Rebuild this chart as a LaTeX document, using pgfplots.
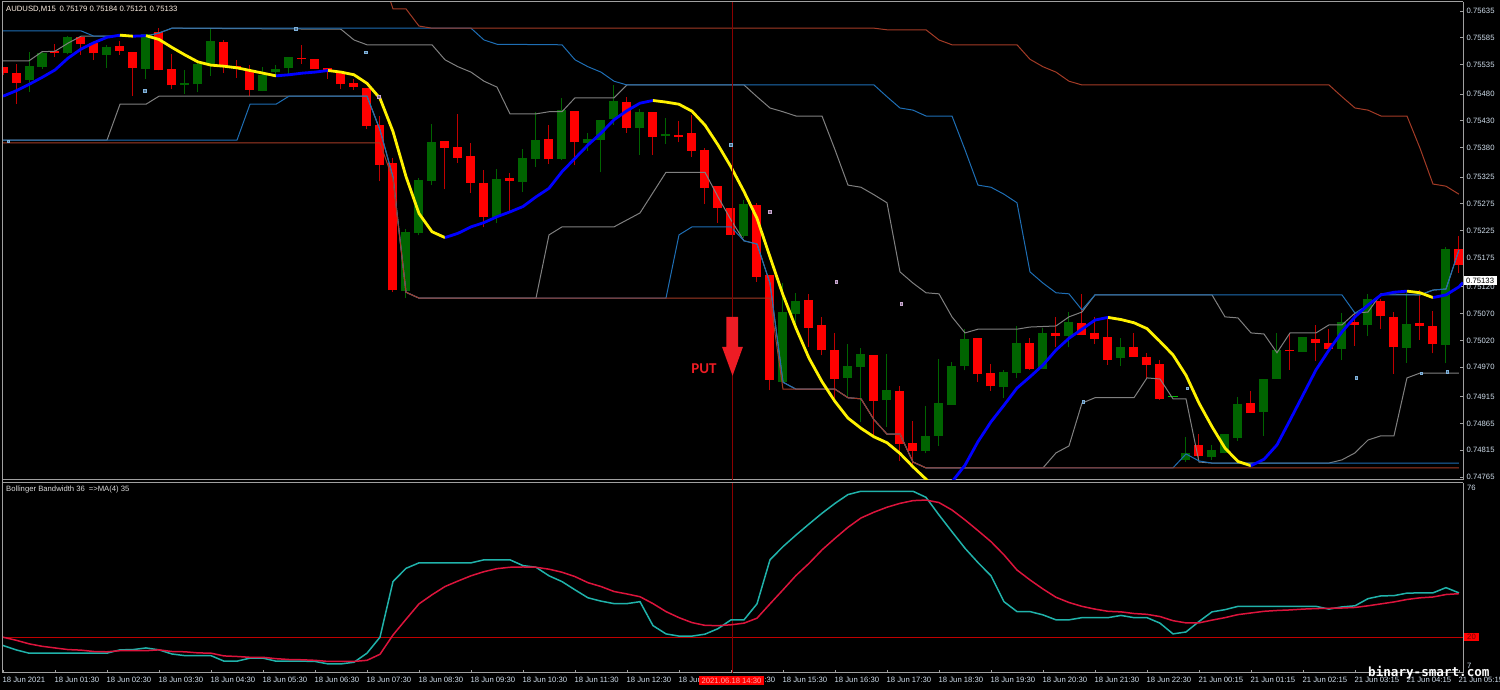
\documentclass[border=0pt]{standalone}
\usepackage{fontspec}
\setmainfont{Liberation Sans}
\newfontfamily\markfont{DejaVu Sans Mono}
\newfontfamily\putfont{Carlito}
\usepackage{pgfplots}
\usepackage{pgfplotstable}
\pgfplotsset{compat=1.18}
\definecolor{bull}{HTML}{006400}
\definecolor{bear}{HTML}{FF0000}
\definecolor{bearwick}{HTML}{C00000}
\definecolor{bandgrey}{HTML}{808080}
\definecolor{bandblue}{HTML}{1E6EB4}
\definecolor{bandbrown}{HTML}{A33B26}
\definecolor{cross}{HTML}{8B0000}
\definecolor{lvl}{HTML}{C00000}
\definecolor{bbw}{HTML}{20B2AA}
\definecolor{bbwma}{HTML}{DC143C}
\definecolor{ticktxt}{HTML}{D0DEEC}
\definecolor{frame}{HTML}{A0A0A0}
\definecolor{putred}{HTML}{ED1C24}
\definecolor{dotblue}{HTML}{7FB2DC}
\definecolor{dotpink}{HTML}{C8A8D0}

% falling candles: o is the top of the body
\pgfplotstableread{
i o h l c
0 0.75530 0.75531 0.75516 0.75519
1 0.75519 0.75536 0.75461 0.75501
4 0.75560 0.75573 0.75550 0.75557
6 0.75586 0.75587 0.75553 0.75573
7 0.75575 0.75578 0.75544 0.75556
9 0.75570 0.75579 0.75553 0.75560
10 0.75559 0.75559 0.75477 0.75529
12 0.75595 0.75603 0.75524 0.75524
13 0.75526 0.75555 0.75490 0.75496
17 0.75578 0.75581 0.75520 0.75532
18 0.75532 0.75543 0.75510 0.75528
19 0.75523 0.75534 0.75477 0.75488
23 0.75547 0.75572 0.75537 0.75545
24 0.75545 0.75545 0.75527 0.75527
25 0.75529 0.75529 0.75509 0.75523
26 0.75519 0.75522 0.75490 0.75498
27 0.75501 0.75509 0.75488 0.75493
28 0.75491 0.75491 0.75414 0.75420
29 0.75422 0.75439 0.75317 0.75348
30 0.75352 0.75360 0.75111 0.75114
34 0.75392 0.75392 0.75302 0.75379
35 0.75381 0.75443 0.75351 0.75361
36 0.75364 0.75388 0.75296 0.75314
37 0.75314 0.75338 0.75231 0.75250
39 0.75323 0.75333 0.75260 0.75318
42 0.75397 0.75422 0.75349 0.75358
44 0.75449 0.75449 0.75347 0.75390
48 0.75465 0.75475 0.75408 0.75417
50 0.75447 0.75447 0.75367 0.75400
52 0.75403 0.75430 0.75390 0.75400
53 0.75408 0.75441 0.75363 0.75374
54 0.75376 0.75380 0.75275 0.75305
55 0.75308 0.75308 0.75240 0.75267
56 0.75267 0.75267 0.75217 0.75217
58 0.75273 0.75276 0.75130 0.75139
59 0.75143 0.75143 0.74927 0.74947
62 0.75095 0.75107 0.75008 0.75044
63 0.75048 0.75064 0.74992 0.75002
64 0.75002 0.75034 0.74912 0.74948
67 0.74992 0.74992 0.74843 0.74907
69 0.74926 0.74934 0.74794 0.74827
70 0.74829 0.74870 0.74781 0.74813
75 0.75024 0.75024 0.74943 0.74957
76 0.74959 0.74976 0.74926 0.74934
79 0.75015 0.75025 0.74965 0.74966
81 0.75033 0.75064 0.75008 0.75029
83 0.75052 0.75106 0.75030 0.75030
84 0.75033 0.75064 0.75013 0.75023
85 0.75026 0.75061 0.74975 0.74984
87 0.75008 0.75033 0.74989 0.74989
88 0.74989 0.74996 0.74949 0.74975
89 0.74976 0.74984 0.74909 0.74911
92 0.74825 0.74845 0.74796 0.74804
96 0.74903 0.74926 0.74884 0.74884
99 0.75002 0.75033 0.74965 0.75000
101 0.75022 0.75049 0.74982 0.75016
102 0.75016 0.75041 0.75004 0.75004
104 0.75055 0.75071 0.75010 0.75049
106 0.75094 0.75097 0.75041 0.75065
107 0.75064 0.75074 0.74958 0.75007
109 0.75052 0.75115 0.75021 0.75047
110 0.75047 0.75075 0.74996 0.75013
112 0.75191 0.75215 0.75146 0.75161
}\downbars

% rising candles: o is the bottom of the body
\pgfplotstableread{
i o h l c
2 0.75506 0.75558 0.75484 0.75532
3 0.75531 0.75559 0.75526 0.75556
5 0.75556 0.75588 0.75554 0.75586
8 0.75553 0.75572 0.75529 0.75568
11 0.75527 0.75593 0.75509 0.75593
14 0.75497 0.75525 0.75480 0.75500
15 0.75498 0.75541 0.75483 0.75537
16 0.75536 0.75601 0.75514 0.75580
20 0.75486 0.75531 0.75485 0.75516
21 0.75521 0.75534 0.75514 0.75527
22 0.75528 0.75549 0.75517 0.75549
31 0.75112 0.75228 0.75099 0.75223
32 0.75221 0.75324 0.75216 0.75320
33 0.75318 0.75424 0.75310 0.75391
38 0.75251 0.75341 0.75239 0.75321
40 0.75316 0.75377 0.75298 0.75361
41 0.75358 0.75447 0.75344 0.75395
43 0.75359 0.75472 0.75357 0.75450
45 0.75389 0.75407 0.75374 0.75397
46 0.75394 0.75432 0.75334 0.75432
47 0.75433 0.75497 0.75422 0.75467
49 0.75417 0.75453 0.75366 0.75446
51 0.75401 0.75436 0.75387 0.75405
57 0.75215 0.75282 0.75211 0.75274
60 0.74943 0.75128 0.74943 0.75074
61 0.75070 0.75108 0.75046 0.75093
65 0.74950 0.75013 0.74915 0.74973
66 0.74971 0.75005 0.74868 0.74994
68 0.74908 0.74995 0.74859 0.74927
71 0.74814 0.74898 0.74809 0.74842
72 0.74842 0.74985 0.74823 0.74903
73 0.74900 0.74980 0.74900 0.74973
74 0.74972 0.75041 0.74964 0.75023
77 0.74933 0.74965 0.74913 0.74961
78 0.74959 0.75046 0.74949 0.75015
80 0.74967 0.75044 0.74967 0.75033
82 0.75028 0.75074 0.75007 0.75054
86 0.74987 0.75025 0.74972 0.75008
91 0.74796 0.74839 0.74793 0.74810
93 0.74802 0.74825 0.74797 0.74815
94 0.74809 0.74845 0.74809 0.74845
95 0.74838 0.74914 0.74833 0.74901
97 0.74887 0.74948 0.74842 0.74948
98 0.74948 0.75034 0.74948 0.75003
100 0.74998 0.75026 0.74998 0.75026
103 0.75004 0.75071 0.74983 0.75055
105 0.75048 0.75107 0.75028 0.75097
108 0.75006 0.75108 0.74978 0.75051
111 0.75011 0.75194 0.74977 0.75191
}\upbars

% moving average, coloured by slope further down
\pgfplotstableread{
i p
0 0.75476
1 0.75486
2 0.75498
3 0.75511
4 0.75525
5 0.75547
6 0.75564
7 0.75576
8 0.75586
9 0.75590
10 0.75588
11 0.75589
12 0.75582
13 0.75567
14 0.75553
15 0.75540
16 0.75534
17 0.75532
18 0.75529
19 0.75524
20 0.75519
21 0.75514
22 0.75516
23 0.75519
24 0.75521
25 0.75524
26 0.75521
27 0.75516
28 0.75500
29 0.75472
30 0.75410
31 0.75326
32 0.75257
33 0.75223
34 0.75212
35 0.75220
36 0.75232
37 0.75240
38 0.75251
39 0.75260
40 0.75270
41 0.75288
42 0.75304
43 0.75335
44 0.75360
45 0.75385
46 0.75407
47 0.75432
48 0.75449
49 0.75463
50 0.75468
51 0.75465
52 0.75461
53 0.75448
54 0.75422
55 0.75385
56 0.75344
57 0.75298
58 0.75248
59 0.75176
60 0.75105
61 0.75043
62 0.74987
63 0.74943
64 0.74906
65 0.74875
66 0.74856
67 0.74840
68 0.74829
69 0.74809
70 0.74784
71 0.74761
72 0.74735
73 0.74756
74 0.74787
75 0.74831
76 0.74868
77 0.74899
78 0.74931
79 0.74952
80 0.74974
81 0.75002
82 0.75024
83 0.75041
84 0.75058
85 0.75063
86 0.75059
87 0.75053
88 0.75042
89 0.75018
90 0.74993
91 0.74955
92 0.74903
93 0.74859
94 0.74819
95 0.74794
96 0.74786
97 0.74798
98 0.74825
99 0.74871
100 0.74918
101 0.74965
102 0.75002
103 0.75036
104 0.75064
105 0.75086
106 0.75105
107 0.75110
108 0.75112
109 0.75109
110 0.75100
111 0.75105
112 0.75120
112.3 0.75128
}\ma

\pgfplotstableread{
i p
29 0.75712
30 0.75639
31 0.75639
32 0.75607
33 0.75603
67 0.75603
68 0.75600
71 0.75600
72 0.75581
73 0.75572
78 0.75572
79 0.75545
80 0.75531
81 0.75521
82 0.75504
83 0.75497
102 0.75497
103 0.75475
104 0.75454
105 0.75450
106 0.75439
108 0.75439
109 0.75379
110 0.75312
111 0.75308
112 0.75293
}\brownup

\pgfplotstableread{
i p
0 0.75389
29 0.75389
30 0.75320
31 0.75110
32 0.75099
59 0.75099
60 0.74929
64 0.74929
65 0.74913
66 0.74911
67 0.74872
68 0.74845
69 0.74845
70 0.74793
71 0.74782
112 0.74782
}\brownlow

\pgfplotstableread{
i p
0 0.75598
6 0.75598
7 0.75588
11 0.75588
12 0.75594
13 0.75603
36 0.75603
37 0.75581
38 0.75573
43 0.75572
44 0.75544
45 0.75531
46 0.75521
47 0.75504
48 0.75497
67 0.75497
68 0.75475
69 0.75454
70 0.75450
71 0.75439
73 0.75439
74 0.75376
75 0.75310
76 0.75306
77 0.75293
78 0.75277
79 0.75148
80 0.75127
81 0.75109
82 0.75107
83 0.75077
84 0.75105
103 0.75105
104 0.75071
105 0.75086
106 0.75105
109 0.75105
110 0.75114
111 0.75116
112 0.75189
}\blueup

\pgfplotstableread{
i p
0 0.75394
18 0.75394
19 0.75461
21 0.75461
22 0.75476
28 0.75476
29 0.75413
30 0.75325
31 0.75110
32 0.75099
51 0.75099
52 0.75217
53 0.75232
56 0.75232
57 0.75206
58 0.75200
59 0.75127
60 0.74942
61 0.74929
64 0.74929
65 0.74913
66 0.74911
67 0.74872
68 0.74845
69 0.74845
70 0.74793
71 0.74782
90 0.74782
91 0.74808
92 0.74795
93 0.74791
112 0.74791
}\bluelow

\pgfplotstableread{
i p
0 0.75542
2 0.75542
3 0.75559
4 0.75560
5 0.75575
6 0.75588
11 0.75588
12 0.75594
13 0.75603
26 0.75601
27 0.75581
28 0.75572
33 0.75572
34 0.75544
35 0.75531
36 0.75521
37 0.75504
38 0.75493
39 0.75443
41 0.75443
42 0.75447
43 0.75447
44 0.75473
47 0.75473
48 0.75497
57 0.75497
58 0.75475
59 0.75454
60 0.75447
61 0.75439
63 0.75439
64 0.75376
65 0.75310
66 0.75306
67 0.75292
68 0.75277
69 0.75148
70 0.75127
71 0.75109
72 0.75107
73 0.75064
74 0.75034
75 0.75041
78 0.75041
79 0.75045
81 0.75047
82 0.75064
83 0.75073
84 0.75105
93 0.75105
94 0.75064
95 0.75062
96 0.75034
97 0.75032
98 0.74997
99 0.75034
101 0.75034
102 0.75049
103 0.75049
104 0.75071
105 0.75073
106 0.75107
109 0.75105
110 0.75114
111 0.75116
112 0.75189
}\greyup

\pgfplotstableread{
i p
0 0.75394
8 0.75394
9 0.75461
11 0.75461
12 0.75476
28 0.75476
29 0.75413
30 0.75325
31 0.75110
32 0.75099
41 0.75099
42 0.75217
43 0.75232
47 0.75232
48 0.75245
49 0.75258
50 0.75296
51 0.75334
54 0.75334
55 0.75288
56 0.75245
57 0.75206
58 0.75200
59 0.75127
60 0.74942
61 0.74929
64 0.74929
65 0.74913
66 0.74911
67 0.74872
68 0.74845
69 0.74845
70 0.74793
71 0.74782
80 0.74782
81 0.74810
82 0.74823
83 0.74903
84 0.74913
87 0.74913
88 0.74950
89 0.74948
90 0.74911
91 0.74911
92 0.74793
93 0.74791
102 0.74791
103 0.74797
104 0.74810
105 0.74834
106 0.74842
107 0.74842
108 0.74950
109 0.74959
112 0.74959
}\greylow

% bandwidth panel
\pgfplotstableread{
i w m
0 17.0 20.0
1 15.4 18.9
2 14.2 17.6
3 14.2 16.7
4 14.2 16.1
5 14.2 15.5
6 14.2 15.3
7 14.2 14.8
8 14.2 14.7
9 15.4 15.1
10 15.5 15.1
11 16.1 15.1
12 15.4 15.4
13 13.9 14.8
14 13.3 14.7
15 13.3 14.3
16 13.3 14.2
17 11.3 13.2
18 11.3 13.0
19 12.4 12.7
20 12.4 12.7
21 11.3 12.2
22 11.3 11.9
23 11.3 11.8
24 11.2 11.6
25 10.3 11.2
26 10.3 11.2
27 10.9 11.2
28 14.2 11.6
29 20.0 13.8
30 40.2 20.8
31 45.0 26.5
32 47.0 32.1
33 47.0 35.4
34 47.0 38.4
35 47.0 40.4
36 47.0 42.3
37 48.1 43.8
38 48.1 44.9
39 48.1 45.4
40 46.0 45.5
41 45.4 45.4
42 42.3 44.7
43 40.2 43.6
44 37.2 42.0
45 34.3 39.8
46 33.1 38.4
47 32.2 36.6
48 32.2 35.7
49 32.9 34.7
50 24.2 32.2
51 21.2 29.3
52 20.4 27.1
53 20.4 25.3
54 21.1 24.3
55 23.1 24.2
56 26.3 24.5
57 26.3 25.1
58 32.1 26.9
59 48.1 32.1
60 52.9 37.2
61 57.1 42.4
62 61.1 46.8
63 65.0 51.7
64 68.6 55.9
65 71.8 59.9
66 73.0 63.3
67 73.0 65.4
68 73.0 67.2
69 73.0 68.6
70 73.0 69.6
71 70.8 69.8
72 64.4 68.9
73 58.3 66.2
74 52.3 62.6
75 47.1 58.7
76 42.3 54.7
77 32.9 49.9
78 29.3 44.4
79 29.3 40.8
80 28.1 37.5
81 26.3 34.5
82 26.3 32.6
83 27.1 31.2
84 27.1 30.2
85 27.1 29.4
86 27.9 29.2
87 27.1 28.6
88 27.1 28.3
89 25.1 27.5
90 21.2 26.0
91 21.9 25.2
92 25.7 25.2
93 29.2 26.2
94 30.0 27.1
95 31.2 28.2
96 31.2 28.8
97 31.2 29.4
98 31.2 29.7
99 31.2 29.9
100 31.2 30.2
101 31.2 30.4
102 30.2 30.5
103 31.0 30.6
104 31.4 30.8
105 34.0 31.4
106 35.0 32.1
107 35.1 32.8
108 36.0 33.7
109 36.1 34.3
110 36.1 34.6
111 38.0 35.5
112 36.1 35.8
}\bandwidth

\newcommand{\chartfont}{\fontsize{7.7}{9}\selectfont}
\pgfplotsset{
  panel/.style={
    scale only axis, width=1461pt, xmin=-0.077, xmax=112.31,
    axis line style={draw=frame, line width=1pt},
    tick style={draw=frame, line width=0.8pt},
    major tick length=3pt,
    tick label style={font=\chartfont, text=ticktxt},
    /pgf/number format/assume math mode=true,
  },
  candle/.style={draw=none, mark=none, forget plot, error bars/.cd, y dir=plus, y explicit, error mark=none, error bar style={draw=#1}},
  band/.style={draw=#1, line width=1pt, mark=none, forget plot},
  maline/.style={draw=#1, line width=2.8pt, mark=none, line join=round, forget plot},
}

\begin{document}
\begin{tikzpicture}
\path[use as bounding box, fill=black] (0,0) rectangle (1500pt,690pt);

\begin{axis}[panel, at={(2pt,210pt)}, anchor=south west, height=478pt,
  ymin=0.747594, ymax=0.756519,
  xtick=\empty, axis y line*=right, axis x line*=bottom,
  ytick={0.75635,0.75585,0.75535,0.75480,0.75430,0.75380,0.75325,0.75275,0.75225,0.75175,0.75120,0.75070,0.75020,0.74970,0.74915,0.74865,0.74815,0.74765},
  scaled y ticks=false,
  yticklabel style={/pgf/number format/fixed, /pgf/number format/fixed zerofill, /pgf/number format/precision=5, anchor=west, inner xsep=0pt, xshift=3.5pt},
]
% wicks then bodies
\addplot[candle=bearwick, error bar style={line width=1pt}] table[x=i, y=l, y error plus expr=\thisrow{h}-\thisrow{l}] {\downbars};
\addplot[candle=bear, error bar style={line width=9pt}] table[x=i, y=c, y error plus expr=\thisrow{o}-\thisrow{c}] {\downbars};
\addplot[candle=bull, error bar style={line width=1pt}] table[x=i, y=l, y error plus expr=\thisrow{h}-\thisrow{l}] {\upbars};
\addplot[candle=bull, error bar style={line width=9pt}] table[x=i, y=o, y error plus expr=\thisrow{c}-\thisrow{o}] {\upbars};
\addplot[draw=green!75!black, line width=1pt, forget plot] coordinates {(89.65,0.74915) (90.35,0.74915)};

\addplot[band=bandgrey] table[x=i, y=p] {\greyup};
\addplot[band=bandgrey] table[x=i, y=p] {\greylow};
\addplot[band=bandblue] table[x=i, y=p] {\blueup};
\addplot[band=bandblue] table[x=i, y=p] {\bluelow};
\addplot[band=bandbrown] table[x=i, y=p] {\brownup};
\addplot[band=bandbrown] table[x=i, y=p] {\brownlow};

\addplot[only marks, mark=square*, mark size=1.3pt, mark options={draw=dotblue, fill=dotblue!60!black, line width=0.5pt}, forget plot] coordinates {
  (10.9,0.75486) (27.9,0.75558) (22.5,0.75602) (0.4,0.75392) (56,0.75385) (83.1,0.74905) (91.1,0.74931) (104.1,0.74950) (109.1,0.74959) (111.1,0.74961)};
\addplot[only marks, mark=square*, mark size=1.3pt, mark options={draw=dotpink, fill=dotpink!60!black, line width=0.5pt}, forget plot] coordinates {
  (28.9,0.75475) (59,0.75260) (64.1,0.75129) (69.1,0.75088)};

\addplot[maline=blue, restrict x to domain=0:9] table[x=i, y=p] {\ma};
\addplot[maline=yellow, restrict x to domain=9:10] table[x=i, y=p] {\ma};
\addplot[maline=blue, restrict x to domain=10:11] table[x=i, y=p] {\ma};
\addplot[maline=yellow, restrict x to domain=11:21] table[x=i, y=p] {\ma};
\addplot[maline=blue, restrict x to domain=21:25] table[x=i, y=p] {\ma};
\addplot[maline=yellow, restrict x to domain=25:34] table[x=i, y=p] {\ma};
\addplot[maline=blue, restrict x to domain=34:50] table[x=i, y=p] {\ma};
\addplot[maline=yellow, restrict x to domain=50:72] table[x=i, y=p] {\ma};
\addplot[maline=blue, restrict x to domain=72:85] table[x=i, y=p] {\ma};
\addplot[maline=yellow, restrict x to domain=85:96] table[x=i, y=p] {\ma};
\addplot[maline=blue, restrict x to domain=96:108] table[x=i, y=p] {\ma};
\addplot[maline=yellow, restrict x to domain=108:110] table[x=i, y=p] {\ma};
\addplot[maline=blue, restrict x to domain=110:113] table[x=i, y=p] {\ma};

\addplot[draw=cross, line width=1pt, forget plot] coordinates {(56.08,0.747594) (56.08,0.756519)};

% PUT arrow
\fill[putred] (axis cs:55.65,0.75064) -- (axis cs:56.54,0.75064) -- (axis cs:56.54,0.75008) -- (axis cs:56.92,0.75008)
  -- (axis cs:56.12,0.74954) -- (axis cs:55.31,0.75008) -- (axis cs:55.65,0.75008) -- cycle;
\end{axis}

\begin{axis}[panel, at={(2pt,17pt)}, anchor=south west, height=190pt,
  ymin=7, ymax=76, ytick=\empty, axis x line*=bottom, axis y line*=right,
  xtick={0,4,...,112},
  xticklabels={18 Jun 2021,18 Jun 01:30,18 Jun 02:30,18 Jun 03:30,18 Jun 04:30,18 Jun 05:30,18 Jun 06:30,18 Jun 07:30,18 Jun 08:30,18 Jun 09:30,18 Jun 10:30,18 Jun 11:30,18 Jun 12:30,18 Jun 13:30,18 Jun 14:30,18 Jun 15:30,18 Jun 16:30,18 Jun 17:30,18 Jun 18:30,18 Jun 19:30,18 Jun 20:30,18 Jun 21:30,18 Jun 22:30,21 Jun 00:15,21 Jun 01:15,21 Jun 02:15,21 Jun 03:15,21 Jun 04:15,21 Jun 05:15},
  xticklabel style={anchor=north west, inner xsep=0pt, inner ysep=0pt, yshift=-3.5pt, xshift=-0.5pt},
  clip mode=individual,
]
\addplot[draw=lvl, line width=0.8pt, forget plot] coordinates {(-0.077,20) (112.31,20)};
\addplot[draw=cross, line width=1pt, forget plot] coordinates {(56.08,7) (56.08,76)};
\addplot[draw=bbw, line width=1.5pt, mark=none] table[x=i, y=w] {\bandwidth};
\addplot[draw=bbwma, line width=1.5pt, mark=none] table[x=i, y=m] {\bandwidth};
\end{axis}

% top edge of the chart window and panel texts
\draw[frame, line width=1pt] (2pt,688pt) -- (1463pt,688pt);
\draw[frame, line width=1pt] (2pt,688pt) -- (2pt,17pt);
\draw[frame, line width=1pt] (2pt,207pt) -- (1463pt,207pt);
\draw[frame, line width=1pt] (1463pt,207pt) -- (1463pt,17pt);
\node[anchor=west, inner sep=0pt, font=\chartfont, text=white!90!orange] at (6pt,681pt) {AUDUSD,M15\enspace 0.75179 0.75184 0.75121 0.75133};
\node[anchor=west, inner sep=0pt, font=\chartfont, text=white!85!black] at (6pt,200pt) {Bollinger Bandwidth 36\enspace =>MA(4) 35};
\node[anchor=center, inner sep=0pt, font=\fontsize{15}{15}\selectfont\putfont\bfseries, text=putred] at (704pt,321pt) {PUT};

\fill[white] (1464pt,405pt) rectangle (1497pt,414pt);
\node[anchor=west, inner sep=0pt, font=\chartfont, text=black] at (1466pt,409.5pt) {0.75133};
\fill[red] (1464pt,49pt) rectangle (1479pt,57pt);
\node[anchor=center, inner sep=0pt, font=\chartfont, text=red!45!black] at (1471.5pt,53pt) {20};
\node[anchor=west, inner sep=0pt, font=\chartfont, text=ticktxt] at (1467pt,202pt) {76};
\node[anchor=west, inner sep=0pt, font=\chartfont, text=ticktxt] at (1467pt,24pt) {7};
\fill[red] (699pt,5pt) rectangle (764pt,14pt);
\node[anchor=center, inner sep=0pt, font=\chartfont, text=red!35!white] at (731.5pt,9.5pt) {2021.06.18 14:30};
\node[anchor=west, inner sep=0pt, font=\fontsize{12.6}{13}\selectfont\markfont\bfseries, text=white] at (1368pt,17.5pt) {binary-smart.com};
\end{tikzpicture}
\end{document}
